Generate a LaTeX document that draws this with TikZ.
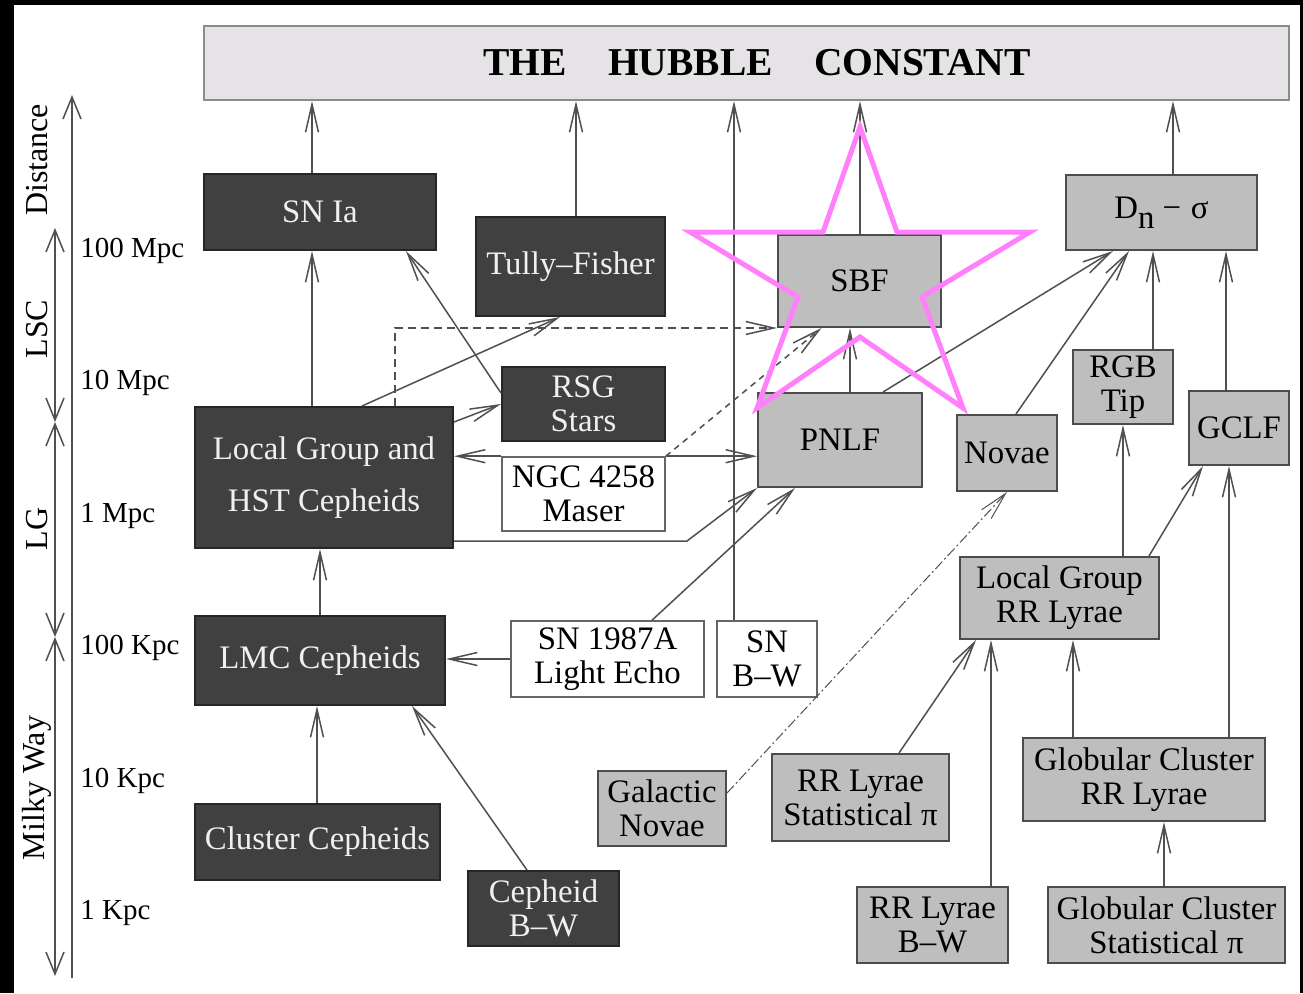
\documentclass[tikz,border=0pt]{standalone}
\usepackage{fontspec}
\setmainfont{Liberation Serif}
\usetikzlibrary{arrows.meta}

\definecolor{darkfill}{RGB}{64,64,64}
\definecolor{greyfill}{RGB}{190,190,190}
\definecolor{titlefill}{RGB}{230,227,230}
\definecolor{linegrey}{RGB}{80,80,80}
\definecolor{starpink}{RGB}{255,128,250}

\begin{document}
\begin{tikzpicture}[x=0.5pt, y=-0.5pt,
    every node/.style={inner sep=0pt, align=center, font=\fontsize{16.4}{17}\selectfont},
    darkbox/.style={draw=black!85, line width=1pt, fill=darkfill, text=white!94!black},
    greybox/.style={draw=black!70, line width=1pt, fill=greyfill},
    whitebox/.style={draw=black!60, line width=0.8pt, fill=white},
    conn/.style={linegrey, line width=0.75pt, -{Straight Barb[length=14pt,width=6.5pt]}},
    scalearrow/.style={linegrey, line width=0.75pt, {Straight Barb[length=11pt,width=9pt]}-{Straight Barb[length=11pt,width=9pt]}},
    scalelab/.style={anchor=west, font=\fontsize{14.5}{15}\selectfont},
    sidelab/.style={rotate=90, font=\fontsize{16}{17}\selectfont}]
    %frame
    \fill[black] (0,0) rectangle (1303,993);
    \fill[white] (14,5) rectangle (1300,993);

    \node[draw=black!45, line width=1pt, fill=titlefill, minimum width=542.5pt, minimum height=37pt] (title) at (746.5,63) {};
    \node[font=\fontsize{19.75}{20}\selectfont\bfseries] (titletext) at (757,63) {THE\hspace{1.05em}HUBBLE\hspace{1.05em}CONSTANT};

    %dark boxes
    \node[darkbox, minimum width=116pt, minimum height=38pt] (snia) at (320,212) {SN Ia};
    \node[darkbox, minimum width=94.5pt, minimum height=49.5pt] (tf) at (570.5,266.5) {Tully--Fisher};
    \node[darkbox, minimum width=81.5pt, minimum height=37pt] (rsg) at (583.5,404) {RSG\\Stars};
    \node[darkbox, minimum width=129pt, minimum height=70.5pt] (lg) at (324,477.5) {Local Group and\\[9pt]HST Cepheids};
    \node[darkbox, minimum width=125pt, minimum height=44.5pt] (lmc) at (320,660.5) {LMC Cepheids};
    \node[darkbox, minimum width=122.5pt, minimum height=38pt] (clc) at (317.5,842) {Cluster Cepheids};
    \node[darkbox, minimum width=75.5pt, minimum height=37.5pt] (cbw) at (543.5,908.5) {Cepheid\\B--W};

    %white boxes
    \node[whitebox, minimum width=81.5pt, minimum height=37pt] (ngc) at (583.5,494) {NGC 4258\\Maser};
    \node[whitebox, minimum width=96.5pt, minimum height=38pt] (sn87) at (607.5,659) {SN 1987A\\Light Echo};
    \node[whitebox, minimum width=50pt, minimum height=38pt] (snbw) at (767,659) {SN\\B--W};

    %grey boxes
    \node[greybox, minimum width=81.5pt, minimum height=46pt] (sbf) at (859.5,281) {SBF};
    \node[greybox, minimum width=95.5pt, minimum height=37.5pt] (dn) at (1161.5,212.5) {D\raisebox{-0.3em}{n}\hspace{0.25em}−\hspace{0.3em}σ};
    \node[greybox, minimum width=82pt, minimum height=47pt] (pnlf) at (840,440) {PNLF};
    \node[greybox, minimum width=50pt, minimum height=38pt] (novae) at (1007,453) {Novae};
    \node[greybox, minimum width=50pt, minimum height=37pt] (rgb) at (1123,387) {RGB\\Tip};
    \node[greybox, minimum width=50pt, minimum height=37pt] (gclf) at (1239,428) {GCLF};
    \node[greybox, minimum width=99.5pt, minimum height=41pt] (lgrr) at (1059.5,598) {Local Group\\RR Lyrae};
    \node[greybox, minimum width=64pt, minimum height=37.5pt] (galnov) at (662,808.5) {Galactic\\Novae};
    \node[greybox, minimum width=88.5pt, minimum height=43.5pt] (rrs) at (860.5,797.5) {RR Lyrae\\Statistical π};
    \node[greybox, minimum width=121pt, minimum height=41.5pt] (gcrr) at (1144,779.5) {Globular Cluster\\RR Lyrae};
    \node[greybox, minimum width=75.5pt, minimum height=38pt] (rrbw) at (932.5,925) {RR Lyrae\\B--W};
    \node[greybox, minimum width=118.5pt, minimum height=38pt] (gcs) at (1166.5,925) {Globular Cluster\\Statistical π};

    %straight up arrows
    \foreach \s/\t/\x in {snia/title/312, tf/title/576, snbw/title/734, sbf/title/860, dn/title/1173,
        lg/snia/312, pnlf/sbf/850, rgb/dn/1153, gclf/dn/1226, lgrr/rgb/1123, gcrr/gclf/1229,
        rrbw/lgrr/991, gcrr/lgrr/1073, gcs/gcrr/1164, lmc/lg/320, clc/lmc/317}
        \draw[conn] (\s.north -| \x,0) -- (\t.south -| \x,0);

    %slanted arrows
    \draw[conn] ([yshift=5.5pt]rsg.west) -- ([xshift=43pt]snia.south);
    \draw[conn] ([xshift=19pt]lg.north) -- ([xshift=-5.25pt]tf.south);
    \draw[conn] ([yshift=27.75pt]lg.east) -- (rsg.west);
    \draw[conn, dash pattern=on 4pt off 2.5pt] ([xshift=35.5pt]lg.north) |- (sbf.south west);
    \draw[conn] (ngc.north west) -- (ngc.north west -| lg.east);
    \draw[conn] (ngc.north east) -- (ngc.north east -| pnlf.west);
    \draw[conn, dash pattern=on 3pt off 2.5pt] (ngc.north east) -- ([xshift=-19pt]sbf.south);
    \draw[conn] ([yshift=-31.75pt]lg.east) -- ++(233,0) -- (pnlf.south west);
    \draw[conn] ([xshift=22.25pt]sn87.north) -- ([xshift=-22.5pt]pnlf.south);
    \draw[conn] (sn87.west) -- (sn87.west -| lmc.east);
    \draw[conn] ([xshift=21.5pt]pnlf.north) -- ([xshift=-24.25pt]dn.south);
    \draw[conn] ([xshift=4.5pt]novae.north) -- ([xshift=-16.25pt]dn.south);
    \draw[conn] ([xshift=44.75pt]lgrr.north) -- ([xshift=-18pt]gclf.south);
    \draw[conn, line width=0.5pt, dash pattern=on 5pt off 1.5pt on 1pt off 1.5pt] ([yshift=7.75pt]galnov.east) -- (novae.south);
    \draw[conn] ([xshift=19.25pt]rrs.north) -- ([xshift=-41.75pt]lgrr.south);
    \draw[conn] ([xshift=-8.25pt]cbw.north) -- ([xshift=46pt]lmc.south);

    %distance scale
    \draw[conn, -{Straight Barb[length=11pt,width=9pt]}] (72,978) -- (72,95);
    \draw[scalearrow] (55,228) -- (55,422);
    \draw[scalearrow] (55,422) -- (55,637);
    \draw[scalearrow] (55,637) -- (55,976);
    \node[sidelab] (dist) at (37,160) {Distance};
    \node[sidelab] (lsc) at (37,329) {LSC};
    \node[sidelab] (lgr) at (37,529) {LG};
    \node[sidelab] (mw) at (37,788) {Milky Way};
    \foreach \y/\t in {251/100 Mpc, 383/10 Mpc, 516/1 Mpc, 648/100 Kpc, 781/10 Kpc, 913/1 Kpc}
        \node[scalelab] (s\y) at (80,\y) {\t};

    %star round SBF
    \draw[starpink, line width=2.5pt, line join=miter] (860,127) -- (897,232) -- (1030,232) -- (922,297) -- (963,408)
        -- (860,337) -- (757,408) -- (798,297) -- (690,232) -- (823,232) -- cycle;
\end{tikzpicture}
\end{document}
